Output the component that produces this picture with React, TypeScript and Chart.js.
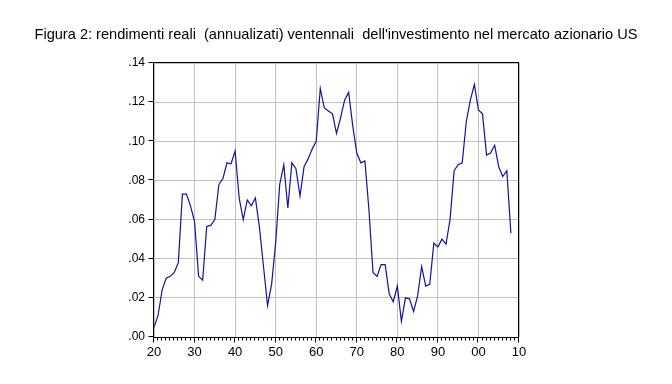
import React, { useEffect, useRef } from 'react';
import { Chart, registerables } from 'chart.js';
Chart.register(...registerables);

const TITLE = "Figura 2: rendimenti reali  (annualizati) ventennali  dell'investimento nel mercato azionario US";

const years = [
  1920, 1921, 1922, 1923, 1924, 1925, 1926, 1927, 1928, 1929,
  1930, 1931, 1932, 1933, 1934, 1935, 1936, 1937, 1938, 1939,
  1940, 1941, 1942, 1943, 1944, 1945, 1946, 1947, 1948, 1949,
  1950, 1951, 1952, 1953, 1954, 1955, 1956, 1957, 1958, 1959,
  1960, 1961, 1962, 1963, 1964, 1965, 1966, 1967, 1968, 1969,
  1970, 1971, 1972, 1973, 1974, 1975, 1976, 1977, 1978, 1979,
  1980, 1981, 1982, 1983, 1984, 1985, 1986, 1987, 1988, 1989,
  1990, 1991, 1992, 1993, 1994, 1995, 1996, 1997, 1998, 1999,
  2000, 2001, 2002, 2003, 2004, 2005, 2006, 2007, 2008,
];

const returns20y = [
  0.005, 0.011, 0.024, 0.030, 0.031, 0.033, 0.038, 0.073, 0.073, 0.067,
  0.059, 0.031, 0.029, 0.0565, 0.057, 0.060, 0.078, 0.081, 0.089, 0.0885,
  0.095, 0.071, 0.060, 0.070, 0.067, 0.071, 0.056, 0.036, 0.016, 0.027,
  0.048, 0.078, 0.088, 0.066, 0.089, 0.086, 0.072, 0.087, 0.091, 0.096,
  0.100, 0.127, 0.117, 0.1155, 0.114, 0.104, 0.112, 0.121, 0.125, 0.108,
  0.094, 0.089, 0.090, 0.065, 0.033, 0.031, 0.037, 0.037, 0.022, 0.018,
  0.026, 0.008, 0.020, 0.0195, 0.013, 0.021, 0.036, 0.026, 0.027, 0.048,
  0.046, 0.050, 0.0475, 0.060, 0.085, 0.088, 0.089, 0.110, 0.121, 0.129,
  0.116, 0.114, 0.093, 0.094, 0.098, 0.087, 0.082, 0.085, 0.053,
];

const xMin = 1920;
const xMax = 2010;
const yMin = 0;
const yMax = 0.14;
const yStep = 0.02;
const xStep = 10;

const FONT_FAMILY = '"Liberation Sans", Arial, sans-serif';

const framePlugin = {
  id: 'framePlugin',
  afterDraw(chart: any) {
    const { ctx, chartArea: a, scales } = chart;
    ctx.save();
    ctx.strokeStyle = '#000';
    ctx.lineWidth = 1;
    const l = Math.round(a.left) - 0.5;
    const r = Math.round(a.right) - 0.5;
    const t = Math.round(a.top) - 0.5;
    const b = Math.round(a.bottom) + 0.5;
    ctx.strokeRect(l, t, r - l, b - t);
    // x tick marks: minor every year, major every 10
    ctx.beginPath();
    for (let yr = xMin; yr <= xMax; yr++) {
      const x = Math.round(scales.x.getPixelForValue(yr)) - 0.5;
      const len = yr % 10 === 0 ? 5 : 3;
      ctx.moveTo(x, b);
      ctx.lineTo(x, b + len);
    }
    // y tick marks
    scales.y.ticks.forEach((tk: any) => {
      const y = Math.round(scales.y.getPixelForValue(tk.value)) - 0.5;
      ctx.moveTo(l, y);
      ctx.lineTo(l - 5, y);
    });
    ctx.stroke();
    // title
    ctx.fillStyle = '#000';
    ctx.font = '14.6px ' + FONT_FAMILY;
    ctx.textAlign = 'center';
    ctx.textBaseline = 'middle';
    ctx.fillText(TITLE, 336, 35);
    ctx.restore();
  },
};

export default function App() {
  const ref = useRef<HTMLCanvasElement | null>(null);
  useEffect(() => {
    document.body.style.margin = '0';
    const canvas = ref.current;
    if (!canvas) return;
    const chart = new Chart(canvas, {
      type: 'line',
      data: {
        datasets: [
          {
            data: years.map((yr, i) => ({ x: yr, y: returns20y[i] })),
            borderColor: '#12129e',
            borderWidth: 1.2,
            pointRadius: 0,
            tension: 0,
            fill: false,
          },
        ],
      },
      options: {
        responsive: false,
        animation: false,
        events: [],
        layout: { padding: { left: 114, right: 153, top: 63, bottom: 17 } },
        plugins: { legend: { display: false }, title: { display: false }, tooltip: { enabled: false } },
        scales: {
          x: {
            type: 'linear',
            min: xMin,
            max: xMax,
            afterFit: (s: any) => { s.height = 30; },
            grid: { color: '#c0c0c0', drawTicks: false, lineWidth: 1 },
            border: { display: false },
            ticks: {
              stepSize: xStep,
              padding: 8,
              color: '#000',
              maxRotation: 0,
              autoSkip: false,
              font: { family: FONT_FAMILY, size: 13 },
              callback: (v: any) => String(Number(v) % 100).padStart(2, '0'),
            },
          },
          y: {
            min: yMin,
            max: yMax,
            afterFit: (s: any) => { s.width = 40; },
            grid: { color: '#c0c0c0', drawTicks: false, lineWidth: 1 },
            border: { display: false },
            ticks: {
              stepSize: yStep,
              padding: 9,
              color: '#000',
              font: { family: FONT_FAMILY, size: 12 },
              callback: (v: any) => Number(v).toFixed(2).replace(/^0/, ''),
            },
          },
        },
      },
      plugins: [framePlugin],
    });
    return () => chart.destroy();
  }, []);
  return (
    <div style={{ width: 672, height: 384, background: '#fff' }}>
      <canvas ref={ref} width={672} height={384} style={{ display: 'block' }} />
    </div>
  );
}
